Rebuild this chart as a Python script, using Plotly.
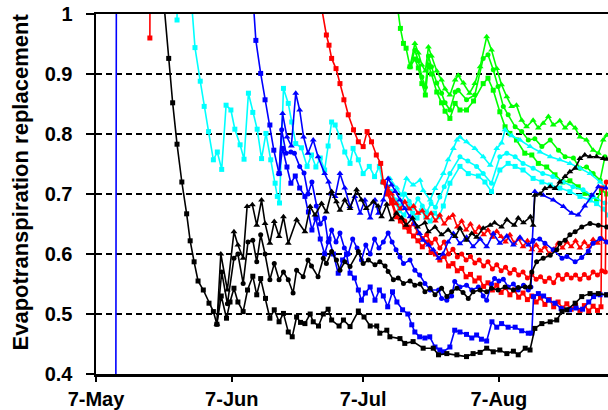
import plotly.graph_objects as go

# x = days after 7-May
x_tick_days = [0, 31, 61, 92]
x_tick_text = ["7-May", "7-Jun", "7-Jul", "7-Aug"]
y_tick_vals = [0.4, 0.5, 0.6, 0.7, 0.8, 0.9, 1.0]
y_tick_text = ["0.4", "0.5", "0.6", "0.7", "0.8", "0.9", "1"]

black_sq = [(15.0,1.06),(16.6,0.926),(17.5,0.852),(18.5,0.783),(19.6,0.72),(20.7,0.667),(21.5,0.622),(22.4,0.587),(23.3,0.555),(24.5,0.54),(25.8,0.518),(26.8,0.504),(27.6,0.483),
    (28.6,0.53),(29.8,0.493),(30.6,0.52),(31.5,0.543),(32.4,0.52),(33.6,0.504),(34.6,0.54),(35.8,0.563),(36.7,0.532),(37.6,0.559),
    (38.7,0.526),(39.7,0.493),(40.7,0.507),(41.8,0.487),(42.8,0.501),(43.9,0.47),(44.8,0.462),(45.8,0.495),(46.7,0.486),(47.7,0.484),
    (48.9,0.50),(49.6,0.487),(50.8,0.48),(51.9,0.50),(53.0,0.508),(53.8,0.49),(55.5,0.48),(56.5,0.49),(58.0,0.479),(59.9,0.505),
    (61.2,0.495),(62.6,0.48),(64.1,0.48),(64.8,0.468),(66.4,0.473),(67.1,0.462),(69.4,0.459),(70.5,0.451),(72.4,0.454),(74.7,0.443),
    (77.0,0.443),(78.2,0.432),(80.1,0.434),(82.4,0.432),(84.6,0.429),(86.1,0.434),(87.7,0.436),(89.2,0.443),(90.7,0.437),(92.2,0.44),
    (93.8,0.434),(95.3,0.438),(96.4,0.432),(98.0,0.443),(99.1,0.44),(100.2,0.476),(101.8,0.484),(103.7,0.487),(105.2,0.49),(106.4,0.504),
    (107.5,0.507),(109.4,0.518),(110.9,0.529),(112.8,0.534),(114.7,0.534),(116.6,0.532)]
black_ci = [(27.6,0.483),(28.7,0.57),(30.0,0.517),(31.5,0.593),(32.4,0.60),(33.6,0.551),(34.7,0.62),(35.8,0.623),(36.7,0.587),(37.6,0.632),
    (38.6,0.60),(39.7,0.557),(40.7,0.584),(41.8,0.557),(42.8,0.57),(43.9,0.557),(45.0,0.535),(45.8,0.573),(47.3,0.562),(48.4,0.59),
    (49.2,0.58),(50.7,0.562),(51.9,0.593),(52.6,0.584),(53.8,0.604),(54.9,0.59),(55.7,0.573),(56.8,0.587),(58.0,0.579),(59.9,0.604),
    (61.0,0.584),(62.2,0.59),(63.7,0.582),(64.8,0.587),(66.0,0.58),(66.7,0.571),(67.9,0.557),(69.0,0.56),(70.2,0.551),(71.7,0.555),
    (72.8,0.548),(74.0,0.55),(75.1,0.537),(76.3,0.543),(77.4,0.532),(78.9,0.543),(80.1,0.529),(81.2,0.537),(82.4,0.543),(83.8,0.536),
    (85.0,0.526),(86.1,0.537),(87.7,0.54),(89.2,0.537),(90.3,0.543),(91.8,0.54),(93.4,0.545),(95.3,0.54),(96.4,0.544),(98.0,0.545),
    (99.1,0.545),(99.5,0.57),(100.6,0.587),(102.1,0.593),(103.7,0.598),(105.2,0.607),(105.9,0.618),(107.1,0.623),(108.2,0.632),
    (109.4,0.637),(110.9,0.645),(112.8,0.651),(114.7,0.648),(116.6,0.645)]
black_tr = [(27.6,0.483),(28.5,0.60),(30.0,0.54),(31.5,0.637),(32.4,0.615),(33.6,0.593),(34.5,0.679),(35.7,0.682),(36.7,0.648),(37.8,0.69),
    (38.6,0.651),(39.7,0.618),(40.7,0.654),(41.8,0.629),(42.8,0.662),(43.9,0.618),(45.8,0.657),(47.7,0.637),(48.9,0.679),(50.0,0.665),
    (51.5,0.684),(52.6,0.67),(53.8,0.704),(54.9,0.687),(55.7,0.673),(56.8,0.69),(58.0,0.676),(59.5,0.707),(60.6,0.69),(61.7,0.676),
    (63.3,0.687),(64.4,0.68),(65.2,0.662),(66.4,0.683),(67.5,0.657),(68.6,0.668),(69.8,0.66),(70.8,0.648),(72.3,0.66),(73.4,0.645),
    (75.1,0.652),(75.9,0.637),(77.4,0.645),(78.9,0.632),(80.4,0.64),(82.0,0.629),(83.1,0.643),(84.6,0.623),(85.8,0.634),(86.9,0.628),
    (88.4,0.643),(90.0,0.648),(91.0,0.652),(92.6,0.645),(93.8,0.657),(95.5,0.648),(96.4,0.66),(97.6,0.652),(99.2,0.662),(99.8,0.648),
    (100.2,0.698),(101.4,0.70),(102.5,0.709),(103.7,0.712),(104.8,0.709),(105.9,0.72),(107.1,0.729),(108.2,0.737),(109.4,0.743),
    (110.5,0.759),(111.6,0.765),(112.8,0.762),(114.3,0.762),(115.8,0.759),(116.6,0.758)]

blue_sq = [(4.5,0.2),(5.0,3.0),(35.0,1.12),(36.5,0.956),(37.6,0.901),(38.6,0.857),(39.7,0.815),(40.6,0.773),(41.8,0.734),
    (42.6,0.776),(43.6,0.745),(44.5,0.718),(45.5,0.73),(46.5,0.71),(47.7,0.696),(48.5,0.67),(49.3,0.64),(50.2,0.66),(51.2,0.625),
    (52.2,0.60),(53.2,0.625),(54.2,0.60),(55.3,0.568),(56.3,0.59),(57.2,0.60),(58.0,0.568),(59.0,0.56),(59.9,0.54),(60.6,0.523),
    (61.5,0.535),(62.6,0.545),(63.7,0.523),(64.7,0.54),(65.6,0.53),(66.6,0.512),(67.7,0.537),(68.7,0.52),(70.0,0.507),(71.2,0.50),
    (72.1,0.482),(72.8,0.47),(73.9,0.462),(75.1,0.46),(76.2,0.462),(77.4,0.445),(78.5,0.44),(79.3,0.437),(80.8,0.445),(81.9,0.473),
    (83.1,0.47),(84.6,0.466),(85.8,0.46),(86.9,0.465),(88.0,0.458),(89.2,0.455),(90.4,0.487),(91.5,0.478),(92.6,0.484),(94.1,0.478),
    (95.7,0.478),(97.2,0.472),(98.7,0.468),(99.5,0.468),(99.9,0.529),(101.0,0.534),(102.2,0.53),(103.3,0.523),(104.8,0.518),
    (106.2,0.509),(108.1,0.507),(109.6,0.51),(111.1,0.508),(112.5,0.52),(113.6,0.529),(115.1,0.532),(116.6,0.532)]
blue_ci = [(41.8,0.734),(42.4,0.807),(43.4,0.768),(44.5,0.77),(45.3,0.768),(46.5,0.746),(47.5,0.735),(48.4,0.70),(49.3,0.72),(50.3,0.68),
    (51.2,0.65),(52.2,0.66),(53.0,0.62),(53.8,0.64),(54.8,0.62),(55.7,0.635),(56.7,0.61),(57.6,0.60),(58.6,0.625),(59.6,0.61),
    (60.6,0.59),(61.6,0.615),(62.6,0.60),(63.6,0.625),(64.6,0.61),(65.6,0.62),(66.7,0.635),(67.6,0.62),(68.5,0.607),(69.4,0.595),
    (70.2,0.584),(71.7,0.59),(72.8,0.573),(73.9,0.565),(75.1,0.551),(76.3,0.54),(78.2,0.54),(78.9,0.526),(80.1,0.523),(81.2,0.53),
    (81.9,0.554),(83.1,0.545),(84.6,0.548),(85.8,0.54),(87.3,0.545),(88.4,0.53),(89.2,0.523),(90.3,0.55),(91.0,0.559),(92.0,0.555),
    (93.0,0.558),(94.1,0.545),(95.3,0.55),(96.4,0.54),(97.6,0.548),(98.7,0.54),(99.3,0.545),(99.8,0.623),(101.3,0.625),(102.5,0.618),
    (104.4,0.607),(106.4,0.593),(107.5,0.596),(109.4,0.587),(110.9,0.594),(112.4,0.605),(113.5,0.618),(115.1,0.626),(116.6,0.62)]
blue_tr = [(41.8,0.734),(42.6,0.834),(43.6,0.795),(44.6,0.78),(45.6,0.868),(46.5,0.84),(47.4,0.795),(48.4,0.768),(49.6,0.79),(50.7,0.762),
    (52.2,0.734),(53.1,0.72),(53.8,0.70),(54.6,0.696),(55.7,0.734),(56.8,0.71),(58.0,0.679),(59.1,0.696),(60.3,0.668),(61.4,0.69),
    (62.6,0.66),(63.7,0.69),(64.5,0.668),(65.6,0.69),(66.7,0.726),(67.5,0.715),(68.3,0.704),(69.4,0.69),(70.5,0.676),(71.7,0.662),
    (72.8,0.65),(73.9,0.634),(74.7,0.623),(75.9,0.615),(77.0,0.607),(78.2,0.593),(79.2,0.60),(80.4,0.62),(81.6,0.634),(83.1,0.617),
    (84.6,0.628),(86.1,0.612),(87.7,0.625),(89.2,0.612),(90.7,0.634),(92.2,0.618),(93.8,0.63),(95.3,0.615),(96.8,0.628),(98.7,0.615),
    (99.6,0.62),(100.2,0.704),(102.1,0.698),(104.4,0.69),(106.7,0.679),(108.6,0.668),(110.1,0.665),(111.6,0.68),(113.2,0.698),
    (114.7,0.712),(116.4,0.71)]

red_sq = [(12.3,0.96),(13.0,3.0),(50.8,1.04),(52.6,0.965),(53.2,0.948),(53.8,0.926),(54.8,0.909),(55.7,0.884),(56.6,0.857),(57.6,0.832),
    (58.8,0.807),(59.9,0.787),(61.0,0.779),(61.9,0.804),(62.9,0.787),(64.0,0.765),(65.0,0.751),(65.6,0.72),
    (66.5,0.70),(67.5,0.685),(68.5,0.662),(69.5,0.655),(70.5,0.645),(71.5,0.638),(72.5,0.63),(73.5,0.622),(74.5,0.612),(75.5,0.62),
    (76.5,0.603),(77.5,0.60),(78.5,0.59),(79.5,0.596),(80.5,0.58),(81.5,0.584),(82.5,0.572),(83.5,0.576),(84.5,0.562),(85.5,0.566),
    (86.5,0.555),(87.5,0.56),(88.5,0.546),(89.5,0.552),(90.5,0.54),(91.5,0.548),(92.5,0.536),(93.5,0.544),(94.5,0.532),(95.5,0.54),
    (96.5,0.528),(97.5,0.535),(98.5,0.524),(99.5,0.53),(100.5,0.52),(101.5,0.527),(102.5,0.516),(103.5,0.524),(104.5,0.512),
    (105.5,0.52),(106.5,0.51),(107.5,0.517),(108.5,0.508),(109.5,0.515),(110.5,0.506),(111.5,0.514),(112.5,0.505),(113.5,0.513),
    (114.5,0.506),(115.3,0.512),(115.5,0.71)]
red_ci = [(65.6,0.72),(66.5,0.705),(67.5,0.69),(68.5,0.668),(69.5,0.66),(70.5,0.655),(71.5,0.645),(72.5,0.65),(73.5,0.635),(74.5,0.626),
    (75.5,0.632),(76.5,0.618),(77.5,0.625),(78.5,0.61),(79.5,0.62),(80.5,0.60),(81.5,0.608),(82.5,0.595),(83.5,0.60),(84.5,0.59),
    (85.5,0.596),(86.5,0.585),(87.5,0.59),(88.5,0.58),(89.5,0.587),(90.5,0.575),(91.5,0.582),(92.5,0.572),(93.5,0.578),(94.5,0.568),
    (95.5,0.574),(96.5,0.565),(97.5,0.57),(98.5,0.56),(99.5,0.566),(100.5,0.558),(101.5,0.562),(102.5,0.554),(103.5,0.56),
    (104.5,0.552),(105.5,0.565),(106.5,0.558),(107.5,0.566),(108.5,0.56),(109.5,0.565),(110.5,0.558),(111.5,0.566),(112.5,0.56),
    (113.5,0.57),(114.5,0.565),(115.5,0.572),(116.3,0.57),(116.5,0.72)]
red_tr = [(65.6,0.72),(66.5,0.712),(67.5,0.70),(68.5,0.684),(69.5,0.675),(70.5,0.687),(71.5,0.675),(72.5,0.68),(73.5,0.668),(74.5,0.672),
    (75.5,0.66),(76.5,0.668),(77.5,0.655),(78.5,0.665),(79.5,0.65),(80.5,0.66),(81.5,0.665),(82.5,0.645),(83.5,0.655),(84.5,0.64),
    (85.5,0.65),(86.5,0.636),(87.5,0.645),(88.5,0.632),(89.5,0.64),(90.5,0.628),(91.5,0.638),(92.5,0.629),(93.5,0.62),(94.5,0.632),
    (95.5,0.618),(96.5,0.625),(97.5,0.612),(98.5,0.622),(99.5,0.607),(100.5,0.615),(101.5,0.605),(102.5,0.612),(103.5,0.60),
    (104.5,0.608),(105.5,0.618),(106.5,0.61),(107.5,0.62),(108.5,0.612),(109.5,0.622),(110.5,0.61),(111.5,0.62),(112.5,0.612),
    (113.5,0.624),(114.5,0.618),(115.5,0.626),(116.5,0.62)]

cyan_sq = [(18.5,0.99),(19.3,3.0),(21.2,1.08),(22.6,0.944),(23.8,0.888),(24.7,0.846),(25.7,0.804),(26.8,0.757),(27.7,0.77),(28.7,0.741),
    (29.7,0.848),(30.8,0.84),(31.7,0.808),(32.9,0.782),(33.8,0.758),(34.8,0.868),(35.8,0.836),(36.8,0.808),(37.8,0.759),(38.8,0.801),
    (39.9,0.757),(40.9,0.718),(41.4,0.696),(41.9,0.685),(42.8,0.876),(43.9,0.851),(44.7,0.82),(45.6,0.784),(46.9,0.777),(48.2,0.746),
    (49.2,0.765),(50.2,0.745),(51.2,0.76),(52.2,0.74),(53.0,0.78),(53.8,0.82),(54.6,0.815),(55.7,0.795),(56.8,0.77),(58.0,0.751),
    (58.7,0.776),(59.9,0.757),(61.0,0.734),(62.4,0.746),(63.6,0.729),(64.7,0.746),(65.4,0.72),(66.5,0.712),(67.2,0.704),
    (68.3,0.685),(69.3,0.672),(70.3,0.665),(71.3,0.68),(72.3,0.668),(73.3,0.66),(74.3,0.672),(75.3,0.662),(76.3,0.655),(77.3,0.668),
    (78.3,0.662),(79.3,0.68),(80.8,0.718),(83.1,0.746),(85.0,0.734),(87.3,0.73),(88.8,0.72),(90.3,0.704),(92.2,0.74),(94.1,0.751),
    (95.7,0.746),(97.5,0.74),(99.8,0.726),(101.8,0.72),(103.7,0.715),(105.9,0.71),(108.2,0.704),(110.5,0.696),(112.8,0.69),
    (114.3,0.684),(115.8,0.675),(116.8,0.665)]
cyan_ci = [(67.2,0.704),(68.5,0.69),(69.5,0.68),(70.5,0.70),(71.5,0.688),(72.5,0.678),(73.5,0.692),(74.5,0.68),(75.5,0.67),(76.5,0.684),
    (77.5,0.678),(78.5,0.695),(79.5,0.712),(80.8,0.734),(83.1,0.762),(84.9,0.755),(86.9,0.746),(88.4,0.734),(90.3,0.718),(92.2,0.762),
    (93.8,0.768),(95.7,0.762),(97.5,0.751),(99.8,0.743),(102.0,0.734),(104.3,0.729),(106.6,0.72),(108.9,0.712),(111.2,0.707),
    (113.5,0.696),(116.2,0.685)]
cyan_tr = [(67.1,0.726),(68.7,0.71),(69.8,0.698),(70.9,0.726),(72.4,0.715),(74.0,0.723),(74.7,0.706),(76.3,0.69),(77.4,0.709),(79.3,0.734),
    (80.4,0.757),(81.6,0.776),(82.4,0.79),(83.1,0.795),(84.6,0.787),(86.5,0.776),(88.4,0.762),(90.0,0.748),(91.5,0.776),(92.6,0.785),
    (93.4,0.807),(94.9,0.797),(96.8,0.79),(99.1,0.779),(101.4,0.77),(103.7,0.762),(105.9,0.757),(108.2,0.751),(110.5,0.743),
    (112.8,0.734),(115.1,0.72),(116.2,0.712)]

green_sq = [(68.5,1.03),(69.5,0.976),(70.2,0.951),(70.8,0.943),(71.7,0.912),(72.8,0.925),(73.6,0.91),(74.4,0.884),(75.2,0.865),(75.9,0.915),
    (76.6,0.9),(77.8,0.87),(78.9,0.852),(79.7,0.838),(80.8,0.826),(82.0,0.851),(83.1,0.84),(84.6,0.84),(86.2,0.855),(88.4,0.884),
    (89.5,0.893),(90.7,0.873),(92.2,0.837),(93.4,0.812),(94.5,0.801),(96.0,0.79),(97.9,0.768),(99.5,0.765),(101.0,0.751),(102.9,0.745),
    (104.8,0.732),(106.6,0.72),(108.2,0.722),(110.1,0.712),(111.6,0.701),(113.2,0.696),(114.3,0.69),(115.4,0.707),(116.6,0.70)]
green_ci = [(71.7,0.912),(72.8,0.94),(73.6,0.922),(74.4,0.895),(75.2,0.878),(75.9,0.93),(76.6,0.912),(77.8,0.885),(78.9,0.868),(79.7,0.852),
    (80.8,0.84),(82.0,0.87),(82.7,0.873),(84.6,0.857),(86.5,0.865),(88.4,0.926),(89.5,0.932),(90.7,0.907),(91.8,0.879),(93.0,0.846),
    (94.1,0.832),(95.7,0.812),(97.2,0.804),(98.7,0.79),(100.2,0.792),(101.8,0.779),(103.7,0.79),(105.6,0.773),(107.1,0.762),(109.0,0.76),
    (110.5,0.743),(112.0,0.745),(113.5,0.734),(115.1,0.723),(116.2,0.762)]
green_tr = [(71.7,0.912),(72.8,0.951),(73.6,0.935),(74.4,0.915),(75.2,0.905),(75.9,0.945),(76.6,0.93),(77.8,0.905),(78.9,0.89),(79.7,0.875),
    (80.8,0.865),(82.0,0.89),(82.7,0.898),(83.9,0.885),(85.3,0.868),(86.5,0.884),(87.7,0.912),(89.2,0.962),(90.3,0.94),(91.5,0.909),
    (92.6,0.882),(93.8,0.862),(94.9,0.846),(96.0,0.848),(97.2,0.823),(98.3,0.812),(99.8,0.823),(101.0,0.81),(102.1,0.818),(103.3,0.829),
    (104.4,0.815),(105.9,0.822),(107.1,0.81),(108.2,0.818),(109.4,0.81),(110.5,0.795),(112.0,0.79),(113.5,0.773),(114.7,0.768),
    (115.8,0.79),(116.6,0.798)]

series = [
    (green_sq, "#00FF00", "square"), (green_ci, "#00FF00", "circle"), (green_tr, "#00FF00", "triangle-up"),
    (cyan_sq, "#00FFFF", "square"), (cyan_ci, "#00FFFF", "circle"), (cyan_tr, "#00FFFF", "triangle-up"),
    (red_sq, "#FF0000", "square"), (red_ci, "#FF0000", "circle"), (red_tr, "#FF0000", "triangle-up"),
    (blue_sq, "#0000FF", "square"), (blue_ci, "#0000FF", "circle"), (blue_tr, "#0000FF", "triangle-up"),
    (black_sq, "#000000", "square"), (black_ci, "#000000", "circle"), (black_tr, "#000000", "triangle-up"),
]

fig = go.Figure()
for data, color, sym in series:
    xs = [p[0] for p in data]
    ys = [p[1] for p in data]
    fig.add_trace(go.Scatter(
        x=xs, y=ys, mode="lines+markers",
        line=dict(color=color, width=1.6),
        marker=dict(symbol=sym, color=color, size=6 if sym == "triangle-up" else 5, line=dict(width=0)),
        showlegend=False, hoverinfo="skip"))

font_main = "Liberation Sans, Arial, sans-serif"
fig.update_layout(
    width=608, height=410,
    margin=dict(l=96, r=0, t=14, b=36),
    paper_bgcolor="white", plot_bgcolor="white",
    font=dict(family=font_main, color="black"),
    xaxis=dict(range=[0, 116.9], tickvals=x_tick_days, ticktext=x_tick_text, automargin=False,
               showgrid=False, zeroline=False, showline=True, linecolor="black", linewidth=2.5,
               mirror=True, ticks="outside", ticklen=5, tickwidth=1.5, tickcolor="black",
               ticklabelstandoff=0,
               tickfont=dict(size=20, family=font_main, weight="bold")),
    yaxis=dict(range=[0.4, 1.0], tickvals=y_tick_vals, ticktext=y_tick_text, automargin=False,
               showgrid=True, gridcolor="black", gridwidth=1.4, griddash="6px,4px",
               zeroline=False, showline=True, linecolor="black", linewidth=2.5,
               ticks="outside", ticklen=8, tickwidth=1.5, tickcolor="black",
               ticklabelstandoff=9,
               tickfont=dict(size=20, family=font_main, weight="bold")),
    annotations=[dict(text="Evapotranspiration replacement", textangle=-90,
                      xref="paper", yref="paper", x=(20 - 96) / 512, y=0.532,
                      xanchor="center", yanchor="middle", showarrow=False,
                      font=dict(size=22, family=font_main, weight="bold"))],
)

fig.write_html("out.html", config={"displayModeBar": False, "staticPlot": True},
               post_script="document.body.style.margin='0';document.body.style.overflow='hidden';")
